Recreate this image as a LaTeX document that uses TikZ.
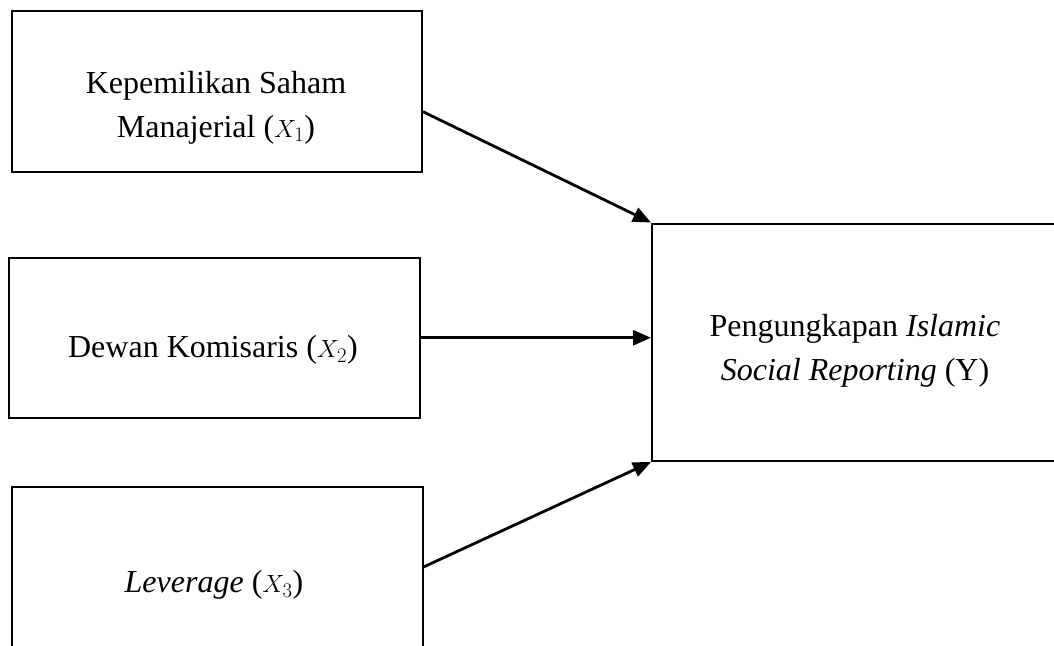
\documentclass[tikz,border=0pt]{standalone}
\usepackage{fontspec}
\setmainfont{Liberation Serif}
\usetikzlibrary{arrows.meta,calc}
\begin{document}
\begin{tikzpicture}[x=1pt,y=-1pt,
  box/.style={draw,line width=2pt,inner sep=0pt,rectangle,anchor=north west},
  lbl/.style={font=\fontsize{32}{44}\selectfont,align=center,inner sep=0pt},
  arr/.style={line width=2.8pt,-{Triangle[length=18pt,width=15pt]}}]
\useasboundingbox (0,0) rectangle (1054,645);
\node[box,minimum width=410pt,minimum height=161pt] (b1) at (11,9.5) {};
\node[box,minimum width=411pt,minimum height=160.5pt] (b2) at (8,256.5) {};
\node[box,minimum width=410.5pt,minimum height=180pt] (b3) at (11,486) {};
\node[box,minimum width=450pt,minimum height=237.5pt] (bY) at (651,222.5) {};
\node[lbl,anchor=base] (t1) at (216,137) {Kepemilikan Saham\\Manajerial ($X_1$)};
\node[lbl,anchor=base] (t2) at (213,357.5) {Dewan Komisaris ($X_2$)};
\node[lbl,anchor=base] (t3) at (214,592.5) {\textit{Leverage} ($X_3$)};
\node[lbl,anchor=base] (tY) at (855,380) {Pengungkapan \textit{Islamic}\\\textit{Social Reporting} (Y)};
\coordinate (s1) at ($(b1.north east)!0.627!(b1.south east)$);
\coordinate (s3) at ($(b3.north east)+(0,81)$);
\draw[arr] (s1) -- (bY.north west);
\draw[arr] (b2.east) -- (b2.east -| bY.west);
\draw[arr] (s3) -- (bY.south west);
\end{tikzpicture}
\end{document}
